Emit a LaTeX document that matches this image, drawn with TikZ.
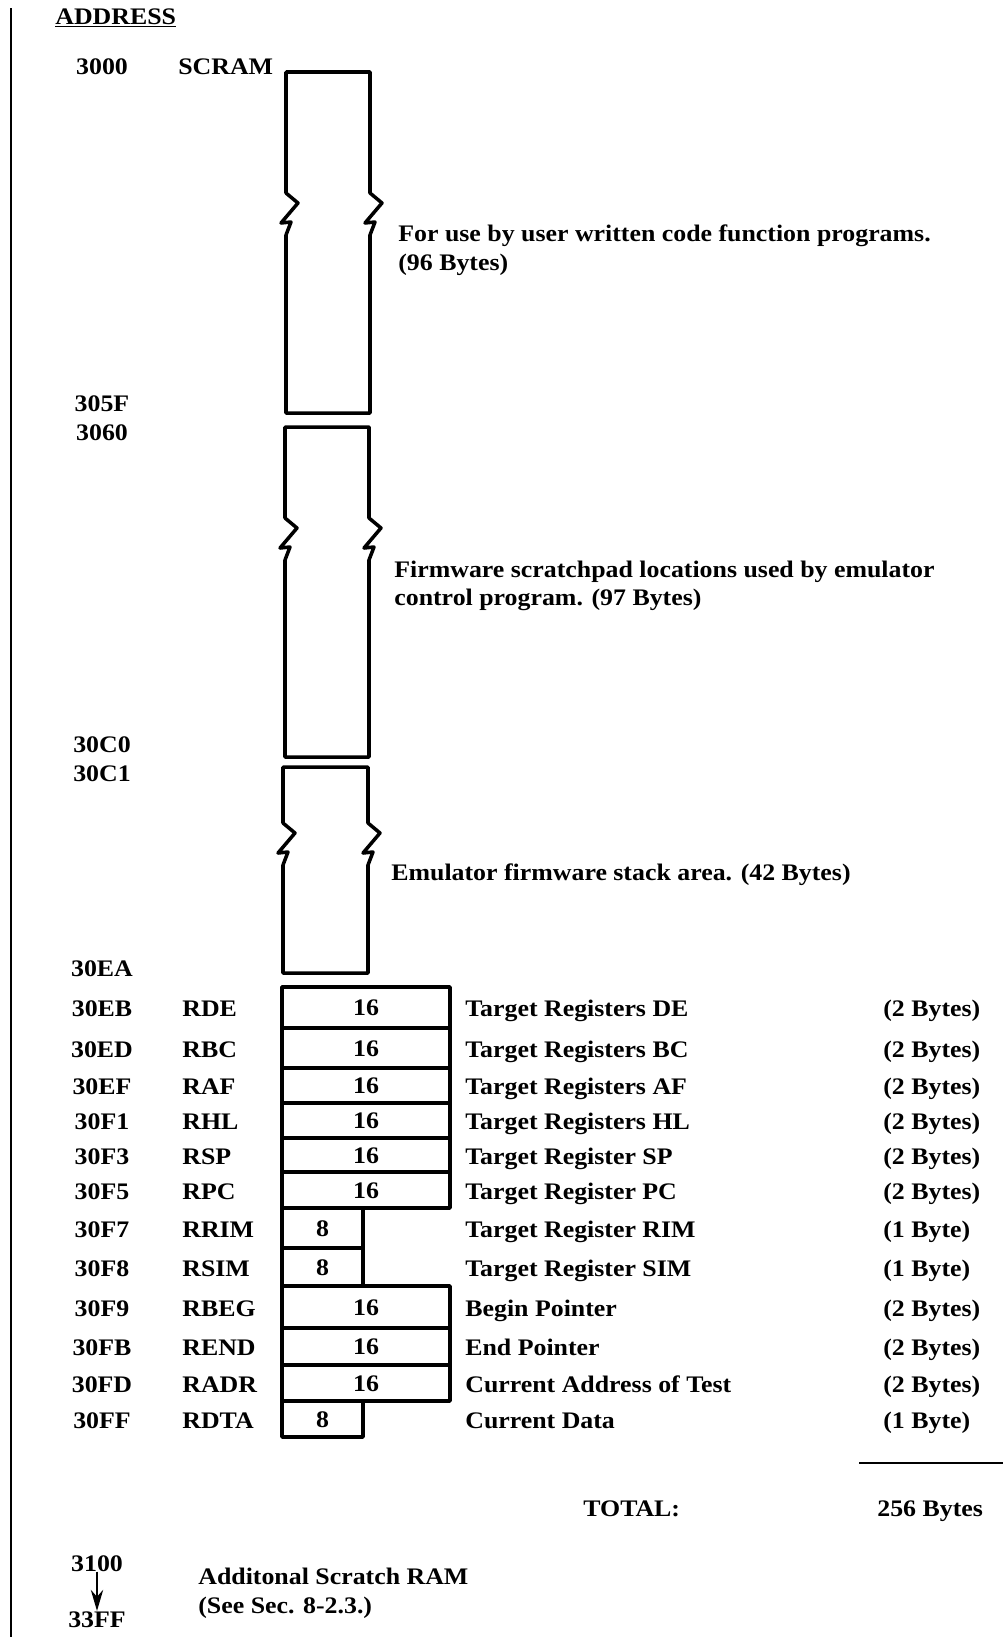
\documentclass[tikz,border=0pt]{standalone}
\usepackage{fontspec}
\setmainfont{Liberation Serif}[FakeStretch=1.09]
\usetikzlibrary{arrows.meta}
% memory block with broken sides: x left, x right, top, bottom, break centre
\newcommand{\membox}[5]{%
  \draw[memline] (#1,#5-20) -- (#1,#3) -- (#2,#3) -- (#2,#5-20)
    -- ++(12,10) -- ++(-17,20) -- ++(10,-1) -- ++(-5,13)
    -- (#2,#4) -- (#1,#4) -- (#1,#5+22);
  \draw[memline] (#1,#5-20) -- ++(12,10) -- ++(-17,20) -- ++(10,-1) -- ++(-5,13);
}

\begin{document}
\begin{tikzpicture}
  [x=0.02cm,y=-0.02cm,
   every node/.style={inner sep=0pt,font=\fontsize{13.5}{16}\selectfont\bfseries},
   memline/.style={line width=2pt,line join=round,line cap=round},
   regline/.style={line width=2pt,line join=round}]
  \useasboundingbox (0,0) rectangle (1003,1637);
  \draw[line width=1pt] (11,8) -- (11,1637);

  \node[anchor=base west] (hdr) at (55,24) {\underline{ADDRESS}};

  % upper areas
  \node[anchor=base] (a3000) at (102,74) {3000};
  \node[anchor=base west] (scram) at (178,74) {SCRAM};
  \membox{286}{370}{72}{413}{213}
  \node[anchor=base west] (t1) at (398,241) {For use by user written code function programs.};
  \node[anchor=base west] (t1b) at (398,270) {(96 Bytes)};
  \node[anchor=base] (a305F) at (102,411) {305F};

  \node[anchor=base] (a3060) at (102,440) {3060};
  \membox{285}{369}{427}{757}{538}
  \node[anchor=base west] (t2) at (394,577) {Firmware scratchpad locations used by emulator};
  \node[anchor=base west] (t2b) at (394,605) {control program. (97 Bytes)};
  \node[anchor=base] (a30C0) at (102,752) {30C0};

  \node[anchor=base] (a30C1) at (102,781) {30C1};
  \membox{283}{368}{767}{973}{843}
  \node[anchor=base west] (t3) at (391,880) {Emulator firmware stack area. (42 Bytes)};
  \node[anchor=base] (a30EA) at (102,976) {30EA};

  % register block
  \foreach \i/\top/\bot/\rx/\addr/\name/\bits/\desc/\size in {
    1/987/1028/450/30EB/RDE/16/Target Registers DE/(2 Bytes),
    2/1028/1068/450/30ED/RBC/16/Target Registers BC/(2 Bytes),
    3/1068/1103/450/30EF/RAF/16/Target Registers AF/(2 Bytes),
    4/1103/1138/450/30F1/RHL/16/Target Registers HL/(2 Bytes),
    5/1138/1172/450/30F3/RSP/16/Target Register SP/(2 Bytes),
    6/1172/1208/450/30F5/RPC/16/Target Register PC/(2 Bytes),
    7/1208/1248/363/30F7/RRIM/8/Target Register RIM/(1 Byte),
    8/1248/1286/363/30F8/RSIM/8/Target Register SIM/(1 Byte),
    9/1286/1328/450/30F9/RBEG/16/Begin Pointer/(2 Bytes),
    10/1328/1365/450/30FB/REND/16/End Pointer/(2 Bytes),
    11/1365/1401/450/30FD/RADR/16/Current Address of Test/(2 Bytes),
    12/1401/1437/363/30FF/RDTA/8/Current Data/(1 Byte)}
  {
    \draw[regline] (282,\top) rectangle (\rx,\bot);
    \node[anchor=base] (r\i) at ({(282+\rx)/2},{(\top+\bot)/2+8}) {\bits};
    \node[anchor=base] (a\i) at (102,{(\top+\bot)/2+9}) {\addr};
    \node[anchor=base west] (n\i) at (182,{(\top+\bot)/2+9}) {\name};
    \node[anchor=base west] (d\i) at (465,{(\top+\bot)/2+9}) {\desc};
    \node[anchor=base west] (s\i) at (883,{(\top+\bot)/2+9}) {\size};
  }

  % total
  \draw[line width=0.8pt] (859,1463) -- (1003,1463);
  \node[anchor=base west] (tot) at (583,1516) {TOTAL:};
  \node[anchor=base west] (totb) at (877,1516) {256 Bytes};

  % extra scratch RAM
  \node[anchor=base] (a3100) at (97,1571) {3100};
  \node[anchor=base] (a33FF) at (97,1627) {33FF};
  \draw[line width=1.2pt,-{Stealth[length=12pt,width=7pt]}] (a3100) -- (a33FF);
  \node[anchor=base west] (x1) at (198,1584) {Additonal Scratch RAM};
  \node[anchor=base west] (x2) at (198,1613) {(See Sec. 8-2.3.)};
\end{tikzpicture}
\end{document}
